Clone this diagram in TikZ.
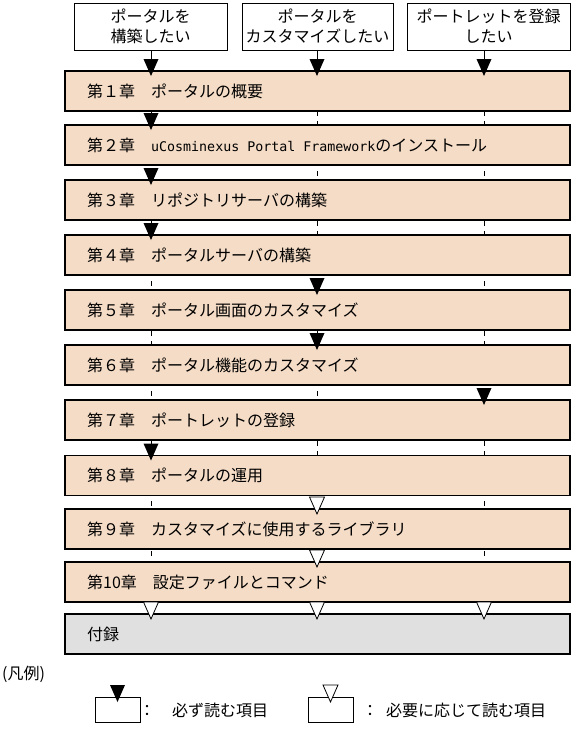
\documentclass[tikz,border=0pt]{standalone}
\usepackage{fontspec}
\setmainfont{Noto Sans CJK JP}
\newfontfamily\latinmono{DejaVu Sans Mono}
\usetikzlibrary{backgrounds}
\definecolor{chapfill}{RGB}{245,220,198}
\definecolor{appfill}{RGB}{224,224,224}
\tikzset{
 hdr/.style={draw=black, line width=1pt, fill=white, minimum height=47pt, align=center, inner sep=0pt, font=\fontsize{16}{20}\selectfont},
 chapbox/.style={draw=black, line width=1.2pt, fill=chapfill, minimum width=505pt, minimum height=40pt, inner sep=0pt, outer sep=0pt},
 appbox/.style={chapbox, fill=appfill},
 chaptext/.style={anchor=base west, inner sep=0pt, font=\fontsize{16}{20}\selectfont},
 legbox/.style={draw=black, line width=1pt, fill=white, minimum width=45pt, minimum height=25pt, inner sep=0pt, outer sep=0pt},
 colline/.style={line width=1pt},
 dcolline/.style={line width=1pt, dash pattern=on 5pt off 5pt},
 solidtri/.pic={\fill[black] (-7.5,-12) -- (7.5,-12) -- (0,5) -- cycle;},
 opentri/.pic={\filldraw[fill=white, draw=black, line width=0.8pt] (-7.5,-12) -- (7.5,-12) -- (0,5) -- cycle;},
}
\begin{document}
\begin{tikzpicture}[x=1pt,y=-1pt]
\useasboundingbox (0,0) rectangle (572,756);
\coordinate (x1) at (151,0);
\coordinate (x2) at (317,0);
\coordinate (x3) at (484,0);
% header boxes
\node[hdr, minimum width=153pt] (h1) at (150.5,26.5) {ポータルを\\構築したい};
\node[hdr, minimum width=151pt] (h2) at (317.5,26.5) {ポータルを\\カスタマイズしたい};
\node[hdr, minimum width=163pt] (h3) at (488.5,26.5) {ポートレットを登録\\したい};
% chapter boxes
\node[chapbox] (c1) at (317.5,91) {};
\node[chapbox] (c2) at (317.5,145) {};
\node[chapbox] (c3) at (317.5,200) {};
\node[chapbox] (c4) at (317.5,255) {};
\node[chapbox] (c5) at (317.5,310) {};
\node[chapbox] (c6) at (317.5,365) {};
\node[chapbox] (c7) at (317.5,420) {};
\node[chapbox] (c8) at (317.5,475.5) {};
\node[chapbox] (c9) at (317.5,529) {};
\node[chapbox] (c10) at (317.5,582) {};
\node[appbox] (c11) at (317.5,634) {};
% chapter texts
\node[chaptext] (t1) at (87,97) {第１章　ポータルの概要};
\node[chaptext] (t2) at (87,151) {第２章　{\latinmono\fontsize{13.3}{16}\selectfont uCosminexus Portal Framework}のインストール};
\node[chaptext] (t3) at (87,206) {第３章　リポジトリサーバの構築};
\node[chaptext] (t4) at (87,261) {第４章　ポータルサーバの構築};
\node[chaptext] (t5) at (87,316) {第５章　ポータル画面のカスタマイズ};
\node[chaptext] (t6) at (87,371) {第６章　ポータル機能のカスタマイズ};
\node[chaptext] (t7) at (87,426) {第７章　ポートレットの登録};
\node[chaptext] (t8) at (87,481.5) {第８章　ポータルの運用};
\node[chaptext] (t9) at (87,535) {第９章　カスタマイズに使用するライブラリ};
\node[chaptext] (t10) at (87,588) {第10章　設定ファイルとコマンド};
\node[chaptext] (t11) at (87,640) {付録};
% column lines
\begin{scope}[on background layer]
\draw[colline] (h1.south -| x1) -- (x1 |- c1.north);
\draw[colline] (h2.south -| x2) -- (x2 |- c1.north);
\draw[colline] (h3.south -| x3) -- (x3 |- c1.north);
\draw[dcolline] (x1 |- c1.south) -- (x1 |- c11.north);
\draw[dcolline] (x2 |- c1.south) -- (x2 |- c11.north);
\draw[dcolline] (x3 |- c1.south) -- (x3 |- c11.north);
\end{scope}
% triangles
\pic at (x1 |- c1.north) {solidtri};
\pic at (x2 |- c1.north) {solidtri};
\pic at (x3 |- c1.north) {solidtri};
\pic at (x1 |- c2.north) {solidtri};
\pic at (x1 |- c3.north) {solidtri};
\pic at (x1 |- c4.north) {solidtri};
\pic at (x2 |- c5.north) {solidtri};
\pic at (x2 |- c6.north) {solidtri};
\pic at (x3 |- c7.north) {solidtri};
\pic at (x1 |- c8.north) {solidtri};
\pic at (x2 |- c9.north) {opentri};
\pic at (x2 |- c10.north) {opentri};
\pic at (x1 |- c11.north) {opentri};
\pic at (x2 |- c11.north) {opentri};
\pic at (x3 |- c11.north) {opentri};
% legend
\node[chaptext] (leg) at (2,679) {(凡例)};
\node[legbox] (lb1) at (117.5,709.5) {};
\pic at (lb1.north) {solidtri};
\node[chaptext] (lc1) at (139,716.5) {：};
\node[chaptext] (lt1) at (172,716.5) {必ず読む項目};
\node[legbox] (lb2) at (330.5,709.5) {};
\pic at (lb2.north) {opentri};
\node[chaptext] (lc2) at (362,716.5) {：};
\node[chaptext] (lt2) at (386,716.5) {必要に応じて読む項目};
\end{tikzpicture}
\end{document}
